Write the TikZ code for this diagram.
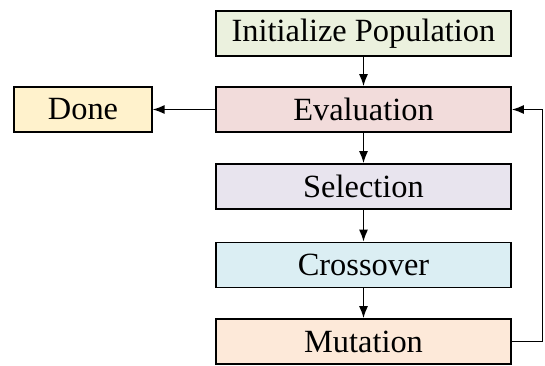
\documentclass[tikz,border=0pt]{standalone}
\usepackage{fontspec}
\setmainfont{Liberation Serif}
\usetikzlibrary{arrows.meta}
\definecolor{cinit}{HTML}{EBF1DE}
\definecolor{ceval}{HTML}{F2DCDB}
\definecolor{csel}{HTML}{E8E4EE}
\definecolor{ccross}{HTML}{DBEEF3}
\definecolor{cmut}{HTML}{FDE9D9}
\definecolor{cdone}{HTML}{FFF2CC}
\tikzset{
  box/.style={draw=black, line width=1.6pt, minimum width=295pt, minimum height=45pt, inner sep=0pt,
    font=\fontsize{32.4}{38}\selectfont},
  conn/.style={line width=1.6pt, -{Latex[length=12pt,width=9pt]}},
}
\begin{document}
\begin{tikzpicture}[x=1pt,y=-1pt]
\useasboundingbox (0,0) rectangle (545,365);
\node[box, fill=cinit] (init) at (363.5,33.5) {Initialize Population};
\node[box, fill=ceval] (eval) at (363.5,109.5) {Evaluation};
\node[box, fill=csel] (sel) at (363.5,186.5) {Selection};
\node[box, fill=ccross] (cross) at (363.5,265) {Crossover};
\node[box, fill=cmut] (mut) at (363.5,341.5) {Mutation};
\node[box, fill=cdone, minimum width=137.5pt] (done) at (83,109.5) {Done};
\coordinate (c1) at (542.5,341.5);
\coordinate (c2) at (542.5,109.5);
\draw[conn] (init) -- (eval);
\draw[conn] (eval) -- (sel);
\draw[conn] (sel) -- (cross);
\draw[conn] (cross) -- (mut);
\draw[conn] (eval) -- (done);
\draw[conn] (mut.east) -- (c1) -- (c2) -- (eval.east);
\end{tikzpicture}
\end{document}
